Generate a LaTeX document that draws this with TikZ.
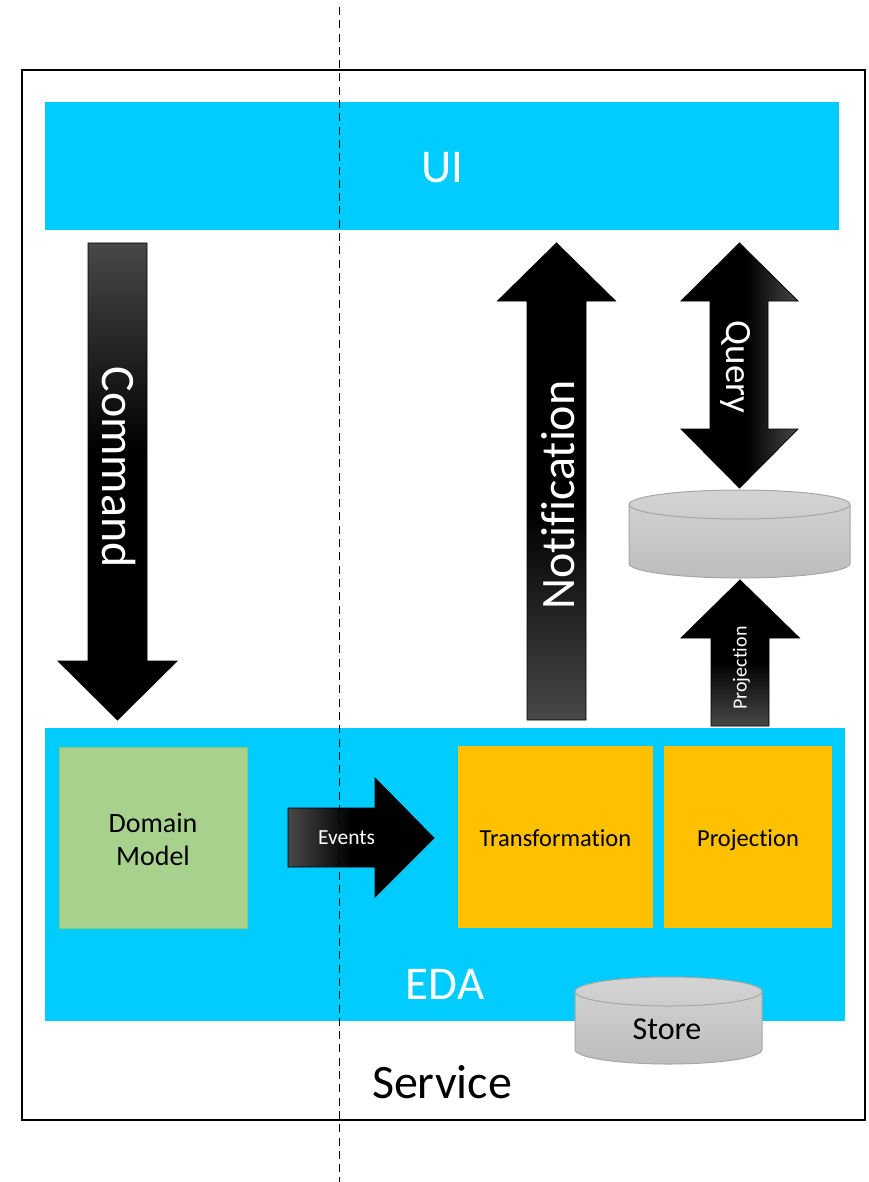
\documentclass[tikz,border=0pt]{standalone}
\usepackage{fontspec}
\setmainfont[Ligatures=NoCommon]{Carlito}
\definecolor{bandblue}{HTML}{00CCFF}
\definecolor{boxgold}{HTML}{FFC000}
\definecolor{boxgreen}{HTML}{A9D18E}
\definecolor{boxgreenline}{HTML}{8CCB6A}
\definecolor{fadegrey}{HTML}{484848}
\definecolor{cyltop}{HTML}{D4D4D4}
\definecolor{cylbot}{HTML}{BDBDBD}
\definecolor{cylline}{HTML}{A6A6A6}
% the path's extent maps to 25bp..75bp of the shading
\pgfdeclarehorizontalshading{arrowfade}{100bp}{color(0bp)=(fadegrey); color(25bp)=(fadegrey); color(47bp)=(black); color(100bp)=(black)}
\pgfdeclareverticalshading{cylfade}{100bp}{color(0bp)=(cylbot); color(25bp)=(cylbot); color(75bp)=(cyltop); color(100bp)=(cyltop)}
\newcommand{\fs}[1]{\fontsize{#1}{#1}\selectfont}
\tikzset{
  x=1pt,y=-1pt,
  band/.style={fill=bandblue,draw=none,inner sep=0pt},
  blockarrow/.style={shading=arrowfade,draw=black,line width=0.8pt},
  fromright/.style={shading angle=180},
  fromleft/.style={shading angle=0},
  fromtop/.style={shading angle=-90},
  frombottom/.style={shading angle=90},
  cylinderbody/.style={shading=cylfade,draw=cylline,line width=1pt},
  whitetext/.style={text=white,inner sep=0pt},
  blacktext/.style={text=black,inner sep=0pt,align=center},
}
\newcommand{\cyl}[5]{% x1,x2,ytop-centre,ybottom-edge,ry (y axis is flipped)
  \path[cylinderbody] (#1,#3) arc[x radius={(#2-#1)/2},y radius=#5,start angle=180,end angle=360]
    -- (#2,#4) arc[x radius={(#2-#1)/2},y radius=#5,start angle=0,end angle=180] -- cycle;
  \draw[cylline,line width=1pt] (#1,#3) arc[x radius={(#2-#1)/2},y radius=#5,start angle=180,end angle=0];
}
\begin{document}
\begin{tikzpicture}
\useasboundingbox (0,0) rectangle (868,1182);
\node[draw=black,line width=2pt,minimum width=843pt,minimum height=1050pt,inner sep=0pt,anchor=north west] (service) at (21,69) {};
\node[band,minimum width=794pt,minimum height=128pt,anchor=north west] (ui) at (45,102) {};
\node[band,minimum width=800pt,minimum height=293pt,anchor=north west] (eda) at (45,728) {};
\coordinate (dashtop) at (339.5,7);
\coordinate (dashbot) at (339.5,1182);

\node[fill=boxgreen,draw=boxgreenline,line width=1pt,minimum width=188pt,minimum height=181pt,anchor=north west,inner sep=0pt] (domain) at (59,747) {};
\node[fill=boxgold,minimum width=195pt,minimum height=182pt,anchor=north west,inner sep=0pt] (transform) at (458,746) {};
\node[fill=boxgold,minimum width=168pt,minimum height=182pt,anchor=north west,inner sep=0pt] (projbox) at (664,746) {};

% block arrows
\path[blockarrow,fromtop] (88,243) -- (147,243) -- (147,661) -- (177,661) -- (117.5,720) -- (58,661) -- (88,661) -- cycle;
\path[blockarrow,frombottom] (527,720) -- (586,720) -- (586,301) -- (615.5,301) -- (556.5,243) -- (497.5,301) -- (527,301) -- cycle;
\path[blockarrow,fromright] (739.5,243) -- (798,301) -- (768,301) -- (768,429) -- (798,429) -- (739.5,488) -- (681,429) -- (710,429) -- (710,301) -- (681,301) -- cycle;
\path[blockarrow,frombottom] (711,726) -- (769,726) -- (769,638) -- (799.5,638) -- (740,580) -- (681,638) -- (711,638) -- cycle;
\path[blockarrow,fromleft] (288,808) -- (375,808) -- (375,778) -- (434,838) -- (375,897) -- (375,867) -- (288,867) -- cycle;

% cylinders
\cyl{629}{850}{504.5}{563.5}{14.5}
\cyl{575}{762}{991.5}{1049.5}{14.5}

\draw[black,line width=1.8pt,dash pattern=on 8pt off 5.3pt] (dashtop) -- (dashbot);

% labels
\node[whitetext] (uilabel) at (442,168) {\fs{47}UI};
\node[whitetext] (edalabel) at (445,984) {\fs{47}EDA};
\node[blacktext] (servicelabel) at (442,1082) {\fs{48}Service};
\node[whitetext,rotate=-90] (commandlabel) at (118.5,467) {\fs{48}Command};
\node[whitetext,rotate=90] (notifylabel) at (558,495) {\fs{48}Notification};
\node[whitetext,rotate=-90] (querylabel) at (736,367) {\fs{37}Query};
\node[whitetext,rotate=90] (projlabel) at (741.5,668) {\fs{20}Projection};
\node[whitetext] (eventslabel) at (346.5,838) {\fs{21.5}Events};
\node[blacktext,font=\fontsize{28}{33}\selectfont] (domainlabel) at (153,839) {Domain\\Model};
\node[blacktext] (translabel) at (555.5,838) {\fs{24.5}Transformation};
\node[blacktext] (projboxlabel) at (748,840) {\fs{24.5}Projection};
\node[blacktext] (storelabel) at (667,1029) {\fs{32}Store};
\end{tikzpicture}
\end{document}
